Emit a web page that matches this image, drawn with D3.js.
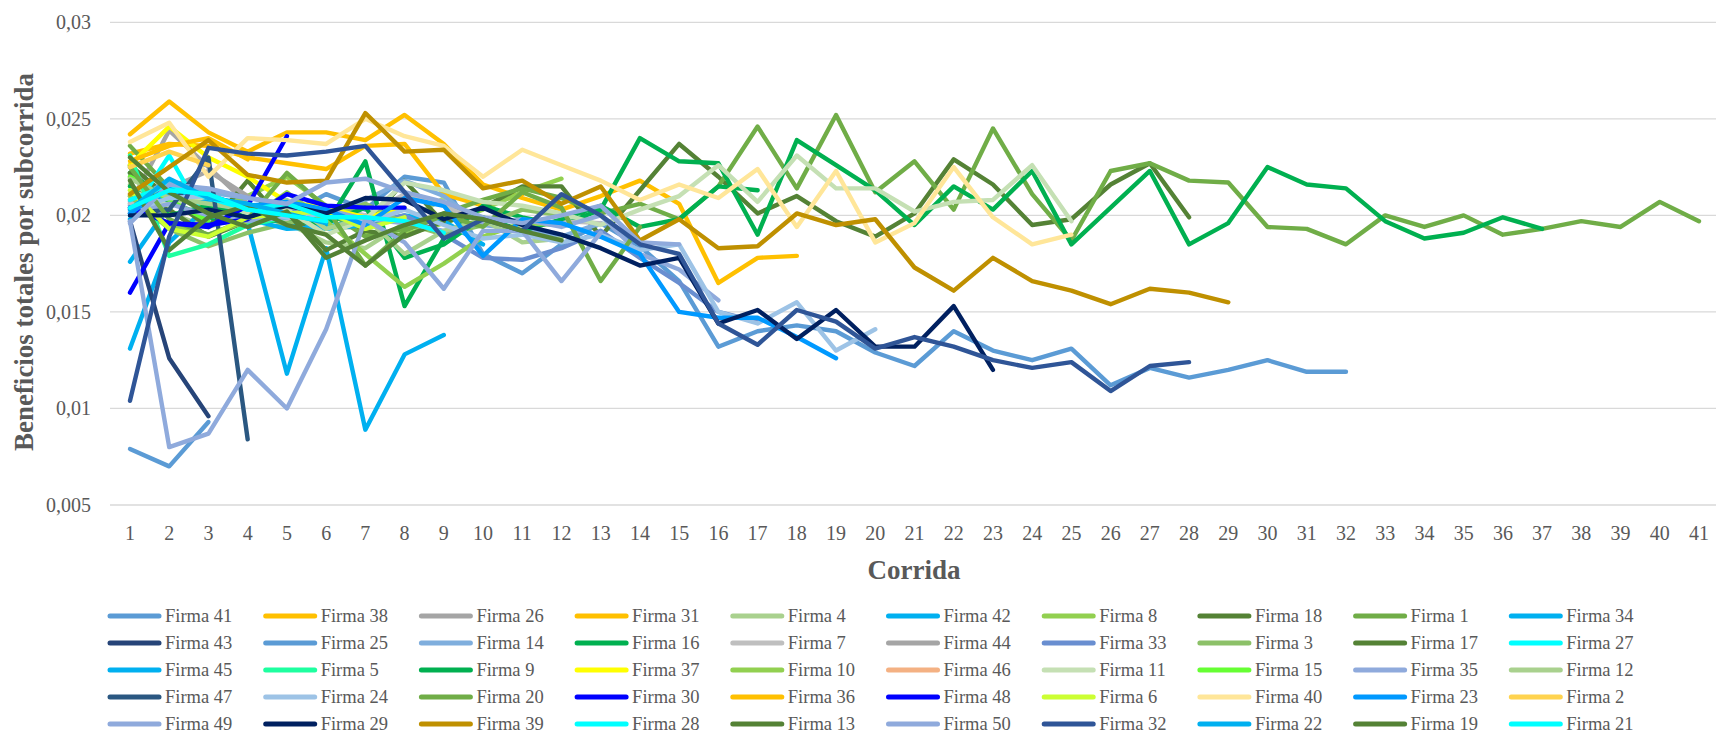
<!DOCTYPE html>
<html>
<head>
<meta charset="utf-8">
<script src="https://cdn.jsdelivr.net/npm/d3@7"></script>
<style>
  body { margin: 0; background: #fff; }
</style>
</head>
<body>
<div id="chart"></div>
<script>
// categories (Corrida) and y ticks
const runs = [1,2,3,4,5,6,7,8,9,10,11,12,13,14,15,16,17,18,19,20,21,22,23,24,25,26,27,28,29,30,31,32,33,34,35,36,37,38,39,40,41];
const yTicks = [0.005, 0.01, 0.015, 0.02, 0.025, 0.03];
const yTickLabels = ["0,005", "0,01", "0,015", "0,02", "0,025", "0,03"];

// benefits per firm, starting at run 1
const firma41 = [0.0205,0.0213,0.0210,0.0204,0.0200,0.0211,0.0203,0.0220,0.0217,0.0180,0.0170,0.0185,0.0196,0.0184,0.0166,0.0132,0.0140,0.0143,0.0140,0.0129,0.0122,0.0140,0.0130,0.0125,0.0131,0.0112,0.0121,0.0116,0.0120,0.0125,0.0119,0.0119];
const firma38 = [0.0242,0.0259,0.0243,0.0233,0.0243,0.0243,0.0239,0.0252,0.0237,0.0216,0.0209,0.0203,0.0210,0.0218,0.0206,0.0165,0.0178,0.0179];
const firma26 = [0.0206,0.0244,0.0225,0.0206,0.0200];
const firma31 = [0.0232,0.0237,0.0236,0.0230,0.0227,0.0224,0.0236,0.0237,0.0211,0.0205,0.0211];
const firma4  = [0.0216,0.0201,0.0194,0.0200,0.0196,0.0186,0.0183,0.0196,0.0209];
const firma42 = [0.0131,0.0186,0.0205,0.0196,0.0118,0.0183,0.0089,0.0128,0.0138];
const firma8  = [0.0220,0.0211,0.0203,0.0210,0.0220,0.0205,0.0190,0.0190,0.0196,0.0203,0.0212,0.0219];
const firma18 = [0.0226,0.0209,0.0194,0.0218,0.0195,0.0194,0.0194,0.0218,0.0196,0.0204,0.0215,0.0215,0.0189,0.0213,0.0237,0.0220,0.0201,0.0210,0.0197,0.0189,0.0201,0.0229,0.0216,0.0195,0.0198,0.0216,0.0227,0.0199];
const firma1  = [0.0236,0.0214,0.0208,0.0203,0.0197,0.0203,0.0189,0.0193,0.0201,0.0208,0.0214,0.0209,0.0201,0.0206,0.0198,0.0215,0.0246,0.0214,0.0252,0.0212,0.0228,0.0203,0.0245,0.0211,0.0187,0.0223,0.0227,0.0218,0.0217,0.0194,0.0193,0.0185,0.0200,0.0194,0.0200,0.0190,0.0193,0.0197,0.0194,0.0207,0.0197];
const firma34 = [0.0176,0.0205,0.0211,0.0203,0.0195,0.0193,0.0195,0.0200,0.0197,0.0185];
const firma43 = [0.0197,0.0126,0.0096];
const firma25 = [0.0079,0.0070,0.0093];
const firma14 = [0.0207,0.0218,0.0212,0.0209,0.0206,0.0202,0.0208,0.0218,0.0210,0.0195,0.0193,0.0189,0.0196];
const firma16 = [0.0222,0.0207,0.0199,0.0196,0.0198,0.0195,0.0228,0.0153,0.0188,0.0205,0.0199,0.0195,0.0203,0.0240,0.0228,0.0227,0.0190,0.0239,0.0226,0.0213,0.0195,0.0215,0.0203,0.0223,0.0185,0.0204,0.0223,0.0185,0.0196,0.0225,0.0216,0.0214,0.0197,0.0188,0.0191,0.0199,0.0193];
const firma7  = [0.0206,0.0213,0.0207,0.0202,0.0198,0.0205,0.0200,0.0211,0.0205,0.0196,0.0193,0.0197,0.0196];
const firma44 = [0.0208,0.0214,0.0223,0.0210,0.0203,0.0199];
const firma33 = [0.0204,0.0210,0.0207,0.0203,0.0201,0.0205,0.0196,0.0200,0.0190,0.0178,0.0177,0.0183,0.0192,0.0178,0.0165,0.0150,0.0145];
const firma3  = [0.0210,0.0193,0.0184,0.0191,0.0196,0.0199,0.0206,0.0196,0.0190,0.0195,0.0203,0.0200];
const firma17 = [0.0222,0.0203,0.0189,0.0197,0.0203,0.0182,0.0192,0.0189,0.0197];
const firma27 = [0.0200,0.0231,0.0195];
const firma45 = [0.0198,0.0212,0.0207,0.0198,0.0193,0.0194,0.0198];
const firma5  = [0.0231,0.0179,0.0185,0.0195,0.0199];
const firma9  = [0.0215,0.0200,0.0205,0.0199,0.0202,0.0196,0.0204,0.0178,0.0185,0.0199,0.0192,0.0198,0.0205,0.0194,0.0198,0.0215,0.0213];
const firma37 = [0.0226,0.0246,0.0230,0.0220,0.0207,0.0204,0.0199,0.0204];
const firma10 = [0.0210,0.0195,0.0190,0.0197,0.0212,0.0197,0.0180,0.0163,0.0175,0.0189,0.0196,0.0195];
const firma46 = [0.0203,0.0206];
const firma11 = [0.0213,0.0205,0.0210,0.0201,0.0203,0.0190,0.0198,0.0217,0.0213,0.0207,0.0205,0.0201,0.0195,0.0203,0.0210,0.0226,0.0207,0.0231,0.0214,0.0214,0.0202,0.0207,0.0208,0.0226,0.0197];
const firma15 = [0.0220,0.0208,0.0197];
const firma35 = [0.0201,0.0206,0.0200,0.0197,0.0199,0.0203,0.0198,0.0196,0.0192,0.0196,0.0198,0.0194,0.0200,0.0180,0.0172,0.0156];
const firma12 = [0.0219,0.0209,0.0206,0.0203,0.0208,0.0193,0.0199,0.0180,0.0192,0.0198,0.0186,0.0188];
const firma47 = [0.0201,0.0203,0.0230,0.0084];
const firma24 = [0.0202,0.0209,0.0210,0.0203,0.0199,0.0201,0.0196,0.0203,0.0195,0.0188,0.0190,0.0186,0.0190,0.0182,0.0185,0.0150,0.0144,0.0155,0.0130,0.0141];
const firma20 = [0.0225,0.0198,0.0190,0.0198,0.0222,0.0204,0.0174,0.0192,0.0200,0.0194,0.0212,0.0204,0.0166,0.0194];
const firma30 = [0.0204,0.0196,0.0195,0.0198,0.0211,0.0205,0.0204,0.0204];
const firma36 = [0.0228,0.0236,0.0240,0.0229];
const firma48 = [0.0160,0.0196,0.0194,0.0205,0.0241];
const firma6  = [0.0213,0.0193,0.0189,0.0199,0.0201,0.0202,0.0193,0.0199];
const firma40 = [0.0238,0.0248,0.0220,0.0240,0.0239,0.0237,0.0250,0.0241,0.0236,0.0220,0.0234,0.0226,0.0218,0.0208,0.0216,0.0209,0.0224,0.0194,0.0223,0.0186,0.0196,0.0225,0.0199,0.0185,0.0190];
const firma23 = [0.0201,0.0215,0.0210,0.0205,0.0207,0.0203,0.0195,0.0209,0.0205,0.0179,0.0198,0.0196,0.0189,0.0180,0.0150,0.0147,0.0147,0.0137,0.0126];
const firma2  = [0.0225,0.0233,0.0226];
const firma49 = [0.0197,0.0080,0.0087,0.0120,0.0100,0.0141,0.0198,0.0186,0.0162,0.0192,0.0192,0.0166,0.0191];
const firma29 = [0.0200,0.0200,0.0203,0.0199,0.0205,0.0201,0.0209,0.0208,0.0198,0.0204,0.0195,0.0190,0.0183,0.0174,0.0178,0.0144,0.0151,0.0136,0.0151,0.0132,0.0132,0.0153,0.0120];
const firma39 = [0.0211,0.0225,0.0239,0.0221,0.0217,0.0218,0.0253,0.0233,0.0234,0.0214,0.0218,0.0206,0.0215,0.0187,0.0198,0.0183,0.0184,0.0201,0.0195,0.0198,0.0173,0.0161,0.0178,0.0166,0.0161,0.0154,0.0162,0.0160,0.0155];
const firma28 = [0.0208,0.0216,0.0209,0.0203,0.0206,0.0199,0.0199,0.0197,0.0191];
const firma13 = [0.0218,0.0182,0.0199,0.0205,0.0195,0.0190,0.0174,0.0190];
const firma50 = [0.0196,0.0216,0.0214,0.0209,0.0206,0.0217,0.0219,0.0212,0.0207,0.0199,0.0196,0.0200,0.0205,0.0186,0.0185];
const firma32 = [0.0104,0.0189,0.0235,0.0232,0.0231,0.0233,0.0236,0.0212,0.0188,0.0198,0.0192,0.0211,0.0200,0.0185,0.0180,0.0144,0.0133,0.0151,0.0145,0.0131,0.0137,0.0132,0.0125,0.0121,0.0124,0.0109,0.0122,0.0124];
const firma22 = [0.0203,0.0219,0.0209,0.0206,0.0201,0.0196];
const firma19 = [0.0230,0.0212,0.0201,0.0194,0.0202,0.0178,0.0187,0.0195,0.0201,0.0198,0.0192,0.0187];
const firma21 = [0.0204,0.0213,0.0211,0.0203,0.0200,0.0197];

// legend / drawing order (row by row)
const firmNames = ["Firma 41","Firma 38","Firma 26","Firma 31","Firma 4","Firma 42","Firma 8","Firma 18","Firma 1","Firma 34",
  "Firma 43","Firma 25","Firma 14","Firma 16","Firma 7","Firma 44","Firma 33","Firma 3","Firma 17","Firma 27",
  "Firma 45","Firma 5","Firma 9","Firma 37","Firma 10","Firma 46","Firma 11","Firma 15","Firma 35","Firma 12",
  "Firma 47","Firma 24","Firma 20","Firma 30","Firma 36","Firma 48","Firma 6","Firma 40","Firma 23","Firma 2",
  "Firma 49","Firma 29","Firma 39","Firma 28","Firma 13","Firma 50","Firma 32","Firma 22","Firma 19","Firma 21"];
const firmValues = [firma41,firma38,firma26,firma31,firma4,firma42,firma8,firma18,firma1,firma34,
  firma43,firma25,firma14,firma16,firma7,firma44,firma33,firma3,firma17,firma27,
  firma45,firma5,firma9,firma37,firma10,firma46,firma11,firma15,firma35,firma12,
  firma47,firma24,firma20,firma30,firma36,firma48,firma6,firma40,firma23,firma2,
  firma49,firma29,firma39,firma28,firma13,firma50,firma32,firma22,firma19,firma21];
const palette = ["#5B9BD5","#FFC000","#A5A5A5","#FFC000","#A9D18E","#00B0F0","#92D050","#548235","#70AD47","#00B0F0",
  "#264478","#5B9BD5","#7FAEDD","#00B050","#BFBFBF","#A5A5A5","#698ED0","#8CC168","#548235","#00FFFF",
  "#00B0F0","#1EFFA0","#00B050","#FFFF00","#92D050","#F4B183","#C5E0B4","#66FF33","#8FAADC","#A9D18E",
  "#2A5781","#9DC3E6","#70AD47","#0000FF","#FFC000","#0000FF","#CCFF33","#FFE699","#0099FF","#FFD34F",
  "#8FAADC","#002060","#BF9000","#00FFFF","#548235","#8FAADC","#2F5597","#00B0F0","#548235","#00FFFF"];

var width = 1716, height = 736;
var font = "'Liberation Serif', 'DejaVu Serif', serif";
var textColor = "#595959";

var svg = d3.select("#chart").append("svg")
  .attr("width", width).attr("height", height)
  .attr("font-family", font);

var x = d3.scalePoint().domain(runs).range([130, 1699]);
var y = d3.scaleLinear().domain([0.005, 0.03]).range([505, 22.3]);

// gridlines
svg.append("g").selectAll("line").data(yTicks).enter().append("line")
  .attr("x1", 110).attr("x2", 1716)
  .attr("y1", d => y(d)).attr("y2", d => y(d))
  .attr("stroke", "#D9D9D9").attr("stroke-width", 1.3);

// y labels
svg.append("g").selectAll("text").data(yTicks).enter().append("text")
  .attr("x", 91).attr("y", d => y(d)).attr("dy", "0.35em")
  .attr("text-anchor", "end").attr("font-family", font).attr("fill", textColor)
  .style("font-size", "20px")
  .text((d, i) => yTickLabels[i]);

// x labels
svg.append("g").selectAll("text").data(runs).enter().append("text")
  .attr("x", d => x(d)).attr("y", 540)
  .attr("text-anchor", "middle").attr("font-family", font).attr("fill", textColor)
  .style("font-size", "20px")
  .text(d => d);

// axis titles
svg.append("text").attr("x", 914).attr("y", 579)
  .attr("text-anchor", "middle").attr("font-family", font).attr("fill", textColor)
  .style("font-size", "27px").style("font-weight", "bold")
  .text("Corrida");
svg.append("text").attr("transform", "translate(33,262) rotate(-90)")
  .attr("text-anchor", "middle").attr("font-family", font).attr("fill", textColor)
  .style("font-size", "27px").style("font-weight", "bold")
  .text("Beneficios totales por subcorrida");

// lines
var line = d3.line().x((d, i) => x(runs[i])).y(d => y(d));
svg.append("g").selectAll("path").data(firmValues).enter().append("path")
  .attr("d", d => line(d))
  .attr("fill", "none")
  .attr("stroke", (d, i) => palette[i])
  .attr("stroke-width", 4.4)
  .attr("stroke-linejoin", "round")
  .attr("stroke-linecap", "round");

// legend
var legend = svg.append("g");
firmNames.forEach(function (name, i) {
  var col = i % 10, row = Math.floor(i / 10);
  var lx = 110 + col * 155.7, ly = 616 + row * 27;
  legend.append("line").attr("x1", lx).attr("x2", lx + 49).attr("y1", ly).attr("y2", ly)
    .attr("stroke", palette[i]).attr("stroke-width", 5).attr("stroke-linecap", "round");
  legend.append("text").attr("x", lx + 55).attr("y", ly).attr("dy", "0.33em")
    .attr("font-family", font).attr("fill", textColor)
    .style("font-size", "18.5px").text(name);
});
</script>
</body>
</html>
